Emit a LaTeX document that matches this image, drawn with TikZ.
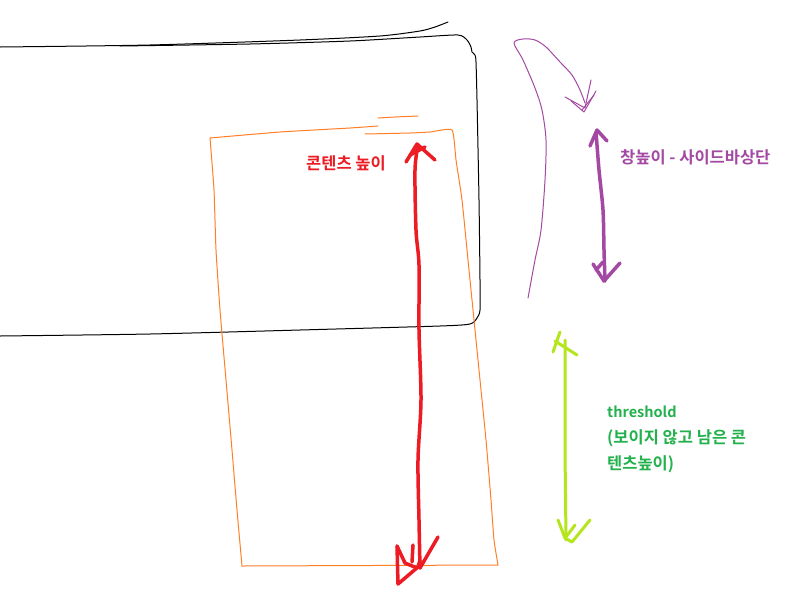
\documentclass[tikz,border=0pt]{standalone}
\usepackage{fontspec}
\newfontfamily\kr{Noto Sans CJK KR Bold}
\definecolor{pblack}{RGB}{0,0,0}
\definecolor{porange}{RGB}{255,127,39}
\definecolor{pred}{RGB}{237,28,36}
\definecolor{ppurple}{RGB}{163,73,164}
\definecolor{plime}{RGB}{181,230,29}
\definecolor{pgreen}{RGB}{34,177,76}
\tikzset{
  thinline/.style={line width=1pt, line join=round, line cap=round},
  thickline/.style={line width=3.5pt, line join=round, line cap=round},
  medline/.style={line width=3pt, line join=round, line cap=round},
  label/.style={font=\kr\fontsize{16.5}{26}\selectfont, anchor=west, inner sep=0pt, align=left},
  latinlabel/.style={font=\kr\fontsize{14.5}{26}\selectfont, anchor=west, inner sep=0pt, align=left}
}
\begin{document}
\begin{tikzpicture}[x=1pt,y=-1pt]
\useasboundingbox (0,0) rectangle (808,592);
\fill[white] (0,0) rectangle (808,592);
% black window
\draw[thinline, pblack] plot[smooth, tension=0.4] coordinates {(0,47) (150,45) (300,40) (380,36) (420,31) (435,27) (448,22)};
\draw[thinline, pblack] plot[smooth, tension=0.4] coordinates {(120,46) (250,44) (350,41) (420,37) (458,35) (467,40) (471,47) (472,52) (475,55) (476,62) (477,100) (479,200) (480,280) (480,310) (477,318) (470,324) (440,326) (300,330) (150,334) (0,336)};
% orange content box
\draw[thinline, porange] plot[smooth, tension=0.3] coordinates {(418,116) (395,117) (378,118)};
\draw[thinline, porange] plot[smooth, tension=0.3] coordinates {(365,134) (410,133) (430,132) (452,130) (456,160) (462,200) (468,260) (474,320) (480,380) (486,440) (491,500) (494,540) (498,565)};
\draw[thinline, porange] plot[smooth, tension=0.3] coordinates {(210,138) (280,132) (350,128) (378,126)};
\draw[thinline, porange] plot[smooth, tension=0.3] coordinates {(210,138) (214,190) (216,250) (220,310) (226,380) (232,450) (237,510) (242,566)};
\draw[thinline, porange] (242,566) -- (498,565);
% red arrow
\draw[thickline, pred] plot[smooth, tension=0.5] coordinates {(418,145) (415,170) (416,230) (419,265) (419,330) (421,400) (418,460) (419,520) (420,568)};
\draw[thickline, pred] (406,162) -- (417,144) -- (435,160);
\draw[thickline, pred] (410,155) -- (425,147);
\draw[thickline, pred] (420,568) -- (438,537);
\draw[thickline, pred] (397,546) -- (398,584) -- (418,567) -- (420,560);
\draw[thickline, pred] (397,546) -- (405,563) -- (417,568);
\draw[thickline, pred] (413,545) -- (412,562);
% purple curve
\draw[thinline, ppurple] plot[smooth, tension=0.5] coordinates {(528,298) (535,260) (541,230) (545,180) (546,140) (542,110) (535,88) (523,60) (514,43) (523,39) (535,40) (546,47) (560,62) (572,75) (580,90) (585,103)};
\draw[thinline, ppurple] (591,80) -- (585,108) -- (565,97);
\draw[thinline, ppurple] (596,91) -- (584,112) -- (571,101);
\draw[thinline, ppurple] (594,95) -- (582,110);
% purple arrow
\draw[thickline, ppurple] plot[smooth, tension=0.5] coordinates {(596,132) (599,170) (603,210) (604,250) (605,281)};
\draw[thickline, ppurple] (590,146) -- (597,130) -- (607,141);
\draw[thickline, ppurple] (593,264) -- (604,281) -- (620,263);
\draw[thickline, ppurple] (596,270) -- (603,262);
% green arrow
\draw[medline, plime] (565,340) -- (565,450) -- (566,540);
\draw[medline, plime] (553,352) -- (560,332);
\draw[medline, plime] (555,341) -- (577,355);
\draw[medline, plime] (558,520) -- (565,538) -- (569,533) -- (575,525);
\draw[medline, plime] (565,538) -- (572,542) -- (590,520);
% labels
\node[label, text=pred] (contentH) at (306,163) {콘텐츠 높이};
\node[label, text=ppurple] (winH) at (620,157) {창높이 - 사이드바상단};
\node[latinlabel, text=pgreen] (thr) at (607,412) {threshold};
\node[label, text=pgreen] (thr2) at (607,438) {(보이지 않고 남은 콘};
\node[label, text=pgreen] (thr3) at (607,464) {텐츠높이)};
\end{tikzpicture}
\end{document}
